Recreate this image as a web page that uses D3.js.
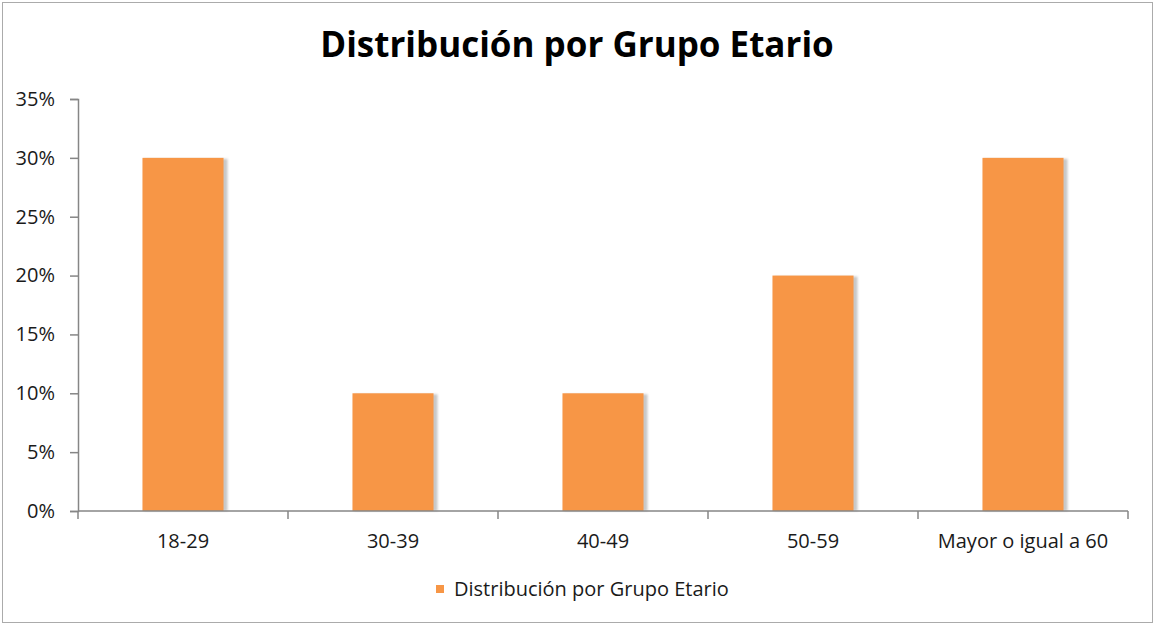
<!DOCTYPE html>
<html>
<head>
<meta charset="utf-8">
<script src="https://cdn.jsdelivr.net/npm/d3@7"></script>
<style>
  body { margin: 0; background: #fff; }
  svg text { font-family: "Open Sans", Lato, sans-serif; }
</style>
</head>
<body>
<svg id="chart"></svg>
<script>
// chart data
var categories = ["18-29", "30-39", "40-49", "50-59", "Mayor o igual a 60"];
var values = [0.30, 0.10, 0.10, 0.20, 0.30];
var yTicks = [0, 0.05, 0.10, 0.15, 0.20, 0.25, 0.30, 0.35];
var seriesName = "Distribución por Grupo Etario";
var chartTitle = "Distribución por Grupo Etario";

var width = 1154,
    height = 624,
    margin = {top: 99, right: 26, bottom: 113, left: 78},
    barColor = "#F79646",
    axisColor = "#868686",
    textColor = "#1a1a1a",
    labelSize = 20;

var svg = d3.select("#chart")
    .attr("width", width)
    .attr("height", height);

// soft shadow for the bars
var defs = svg.append("defs");
defs.append("filter")
    .attr("id", "blur")
    .attr("x", "-20%").attr("width", "140%")
    .append("feGaussianBlur")
    .attr("stdDeviation", 1.2);

// outer frame of the chart area
svg.append("rect")
    .attr("x", 2.5).attr("y", 2.5)
    .attr("width", width - 4).attr("height", height - 4)
    .attr("fill", "#fff")
    .attr("stroke", "#ababab");

// slot scale for tick marks, bar scale for the bars (centered in slots)
var slots = d3.scaleBand()
    .domain(categories)
    .range([margin.left, width - margin.right])
    .padding(0);

var pad = 0.614;
var x = d3.scaleBand()
    .domain(categories)
    .range([margin.left, width - margin.right])
    .paddingInner(pad)
    .paddingOuter(pad / 2);

var y = d3.scaleLinear()
    .domain([0, 0.35])
    .range([height - margin.bottom, margin.top]);

// title
svg.append("text")
    .attr("x", width / 2)
    .attr("y", 57)
    .attr("text-anchor", "middle")
    .attr("font-size", 35)
    .attr("font-weight", "bold")
    .attr("fill", "#000")
    .text(chartTitle);

// bar shadows
svg.append("g")
    .selectAll("rect")
    .data(values)
    .join("rect")
    .attr("x", function (d, i) { return x(categories[i]) + 2; })
    .attr("y", function (d) { return y(d) + 1; })
    .attr("width", x.bandwidth() + 2)
    .attr("height", function (d) { return y(0) - y(d) - 1; })
    .attr("fill", "#c8c8c8")
    .attr("filter", "url(#blur)");

// bars
svg.append("g")
    .selectAll("rect")
    .data(values)
    .join("rect")
    .attr("x", function (d, i) { return x(categories[i]); })
    .attr("y", function (d) { return y(d); })
    .attr("width", x.bandwidth())
    .attr("height", function (d) { return y(0) - y(d); })
    .attr("fill", barColor);

// y axis
var yAxis = svg.append("g")
    .attr("transform", "translate(" + margin.left + ",0)")
    .call(d3.axisLeft(y).tickValues(yTicks).tickFormat(d3.format(".0%")).tickSize(8).tickPadding(15));
yAxis.select(".domain").attr("stroke", axisColor).attr("stroke-width", 1.5);
yAxis.selectAll(".tick line").attr("stroke", axisColor).attr("stroke-width", 1.5);
yAxis.selectAll(".tick text")
    .attr("font-size", labelSize)
    .attr("fill", textColor)
    .attr("font-family", "'Open Sans', sans-serif");

// x axis: line with ticks at slot boundaries
var xAxis = svg.append("g")
    .attr("transform", "translate(0," + y(0) + ")");
xAxis.append("line")
    .attr("x1", margin.left).attr("x2", width - margin.right)
    .attr("stroke", axisColor).attr("stroke-width", 1.5);
var bounds = categories.map(function (c) { return slots(c); }).concat([width - margin.right]);
xAxis.selectAll(".xtick")
    .data(bounds)
    .join("line")
    .attr("class", "xtick")
    .attr("x1", function (d) { return d; }).attr("x2", function (d) { return d; })
    .attr("y1", 0).attr("y2", 8)
    .attr("stroke", axisColor).attr("stroke-width", 1.5);
xAxis.selectAll(".xlabel")
    .data(categories)
    .join("text")
    .attr("class", "xlabel")
    .attr("x", function (d) { return slots(d) + slots.bandwidth() / 2; })
    .attr("y", 37)
    .attr("text-anchor", "middle")
    .attr("font-size", labelSize)
    .attr("fill", textColor)
    .text(function (d) { return d; });

// legend
var legend = svg.append("g")
    .attr("transform", "translate(436,585)");
legend.append("rect")
    .attr("width", 8).attr("height", 8)
    .attr("fill", barColor);
legend.append("text")
    .attr("x", 18)
    .attr("y", 11)
    .attr("font-size", labelSize)
    .attr("fill", textColor)
    .text(seriesName);
</script>
</body>
</html>
